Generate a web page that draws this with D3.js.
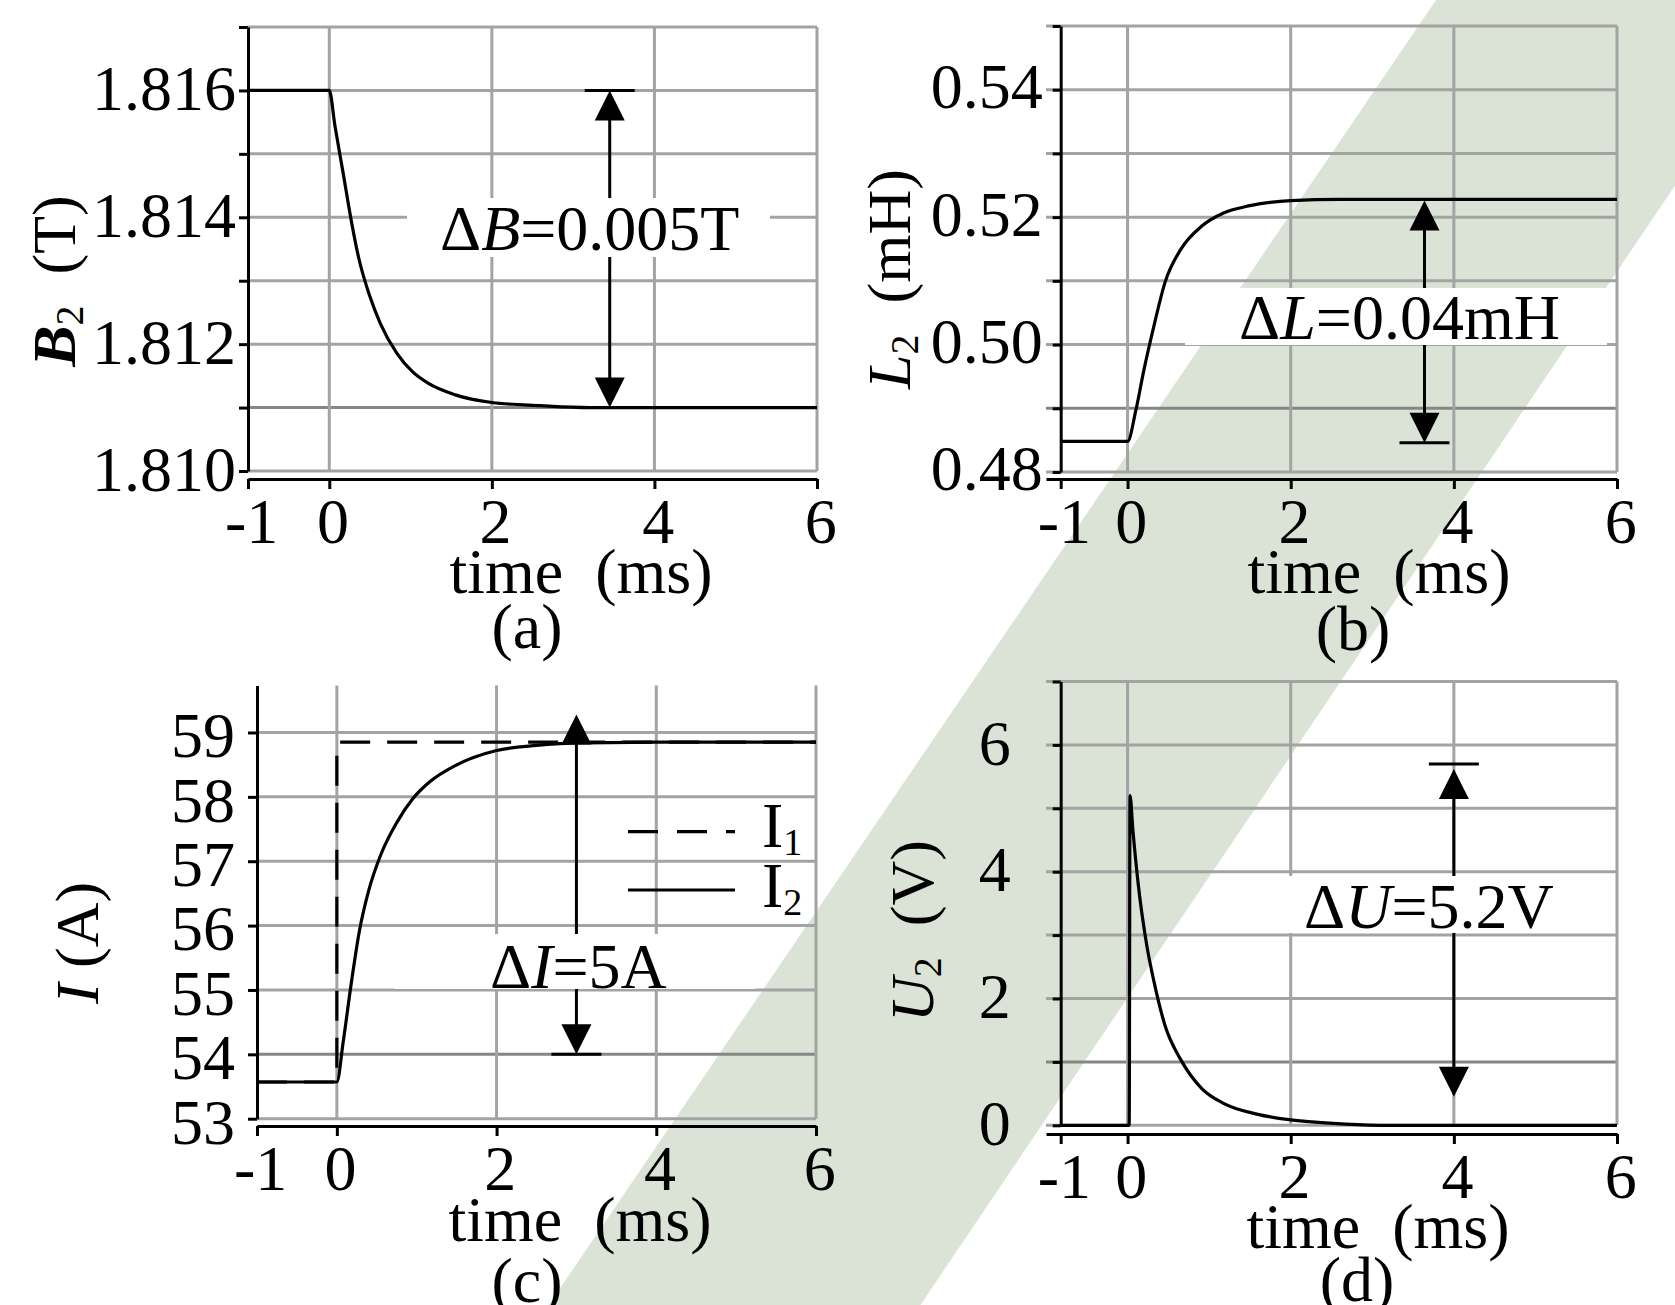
<!DOCTYPE html>
<html>
<head>
<meta charset="utf-8">
<script src="https://cdn.jsdelivr.net/npm/d3@7"></script>
<style>
  html, body { margin: 0; padding: 0; background: #ffffff; }
  svg { display: block; }
  text { font-family: 'Liberation Serif', 'Times New Roman', serif; fill: #000; }
</style>
</head>
<body>
<script>
// ---- time axes (ms) -------------------------------------------------------
const xTickValsAC = [-1, 0, 2, 4, 6];
const xTickValsBD = [-0.82, 0, 2, 4, 6];       // y axis of (b),(d) sits a little right of -1
const xTickLabels = ["-1", "0", "2", "4", "6"];
const xGridVals = [0, 2, 4, 6];

// ---- (a) flux density B2 ---------------------------------------------------
const tA = [-1, 0, 0.07, 0.17, 0.27, 0.36, 0.5, 0.63, 0.83, 1.02, 1.22, 1.55, 2.0, 2.6, 3.2, 4, 5, 6];
const bA = [1.816, 1.816, 1.81544, 1.81470, 1.81395, 1.81337, 1.81275, 1.81232, 1.81186, 1.81157,
            1.81138, 1.81120, 1.81108, 1.81103, 1.811, 1.811, 1.811, 1.811];
const yTicksA = [1.810, 1.811, 1.812, 1.813, 1.814, 1.815, 1.816, 1.817];
const yLabelsA = ["1.810", "", "1.812", "", "1.814", "", "1.816", ""];

// ---- (b) inductance L2 -----------------------------------------------------
const tB = [-0.82, 0, 0.1, 0.2, 0.33, 0.46, 0.65, 0.91, 1.17, 1.5, 2.0, 2.6, 3.2, 4, 5, 6];
const lB = [0.4848, 0.4848, 0.4896, 0.4960, 0.5033, 0.5098, 0.5149, 0.5186, 0.5206, 0.5218,
            0.5226, 0.5228, 0.5228, 0.5228, 0.5228, 0.5228];
const yTicksB = [0.48, 0.49, 0.50, 0.51, 0.52, 0.53, 0.54, 0.55];
const yLabelsB = ["0.48", "", "0.50", "", "0.52", "", "0.54", ""];

// ---- (c) currents I1, I2 ---------------------------------------------------
const tC1 = [-1, 0, 0, 6];
const iC1 = [53.57, 53.57, 58.85, 58.85];
const tC2 = [-1, 0, 0.08, 0.18, 0.28, 0.4, 0.55, 0.75, 0.95, 1.16, 1.49, 2.0, 2.5, 3.1, 4, 5, 6];
const iC2 = [53.57, 53.57, 54.2, 55.1, 55.9, 56.55, 57.1, 57.6, 57.97, 58.23, 58.49, 58.72,
             58.8, 58.84, 58.85, 58.85, 58.85];
const yTicksC = [53, 54, 55, 56, 57, 58, 59];
const yLabelsC = ["53", "54", "55", "56", "57", "58", "59"];

// ---- (d) voltage U2 --------------------------------------------------------
const tD = [-0.82, 0.02, 0.03, 0.065, 0.13, 0.23, 0.33, 0.46, 0.65, 0.91, 1.17, 1.57, 2.0, 2.67, 3.2, 4, 5, 6];
const uD = [0, 0, 5.2, 4.66, 3.81, 2.88, 2.23, 1.57, 1.04, 0.58, 0.35, 0.18, 0.085, 0.02, 0, 0, 0, 0];
const yTicksD = [0, 1, 2, 3, 4, 5, 6, 7];
const yLabelsD = ["0", "", "2", "", "4", "", "6", ""];

// ---- difference arrows: time, lower end, upper end -------------------------
const arrowA = { t: 3.45, lo: 1.811, hi: 1.816 };
const arrowB = { t: 3.64, lo: 0.4846, hi: 0.5226 };
const arrowC = { t: 3.0, lo: 54.0, hi: 59.28 };
const arrowD = { t: 4.0, lo: 0.45, hi: 5.62 };

// ---------------------------------------------------------------------------
const W = 1675, H = 1305;
const GRID = "#a3a3a3";
const GRID_DARK = "#868686";
const svg = d3.select("body").append("svg").attr("width", W).attr("height", H);
svg.append("rect").attr("width", W).attr("height", H).attr("fill", "#ffffff");

// diagonal tinted band behind the figure
svg.append("polygon")
  .attr("points", [[1436, 0], [1800, 0], [1800 - 0.674 * H, H], [1436 - 0.68 * H, H]].map(p => p.join(",")).join(" "))
  .attr("fill", "#dae3d5");

const panels = [
  {
    t: tA, series: [{ v: bA, dash: null }],
    xDomain: [-1, 6], xRange: [248, 817], yAxisAt: -1, xTicks: xTickValsAC,
    yDomain: [1.810, 1.817], yRange: [471, 27], yTicks: yTicksA, yLabels: yLabelsA, darkGrid: 1.811,
    xAxisY: 479, yTickSize: 9, yPad: 3, yDy: "0.3em",
    arrow: arrowA, capTop: true, capBottom: false,
    mask: [407, 198, 363, 59],
    note: ["Δ", "B", "=0.005T"], noteDx: -20, noteY: 250,
    yTitle: ["B", "2", "  (T)"], yTitleBold: true, yTitlePos: [75, 281],
    xTitlePos: [581, 593], tag: "(a)", tagPos: [527, 648]
  },
  {
    t: tB, series: [{ v: lB, dash: null }],
    xDomain: [-1, 6], xRange: [1046, 1617], yAxisAt: -0.82, xTicks: xTickValsBD,
    yDomain: [0.48, 0.55], yRange: [472, 26], yTicks: yTicksB, yLabels: yLabelsB, darkGrid: 0.49,
    xAxisY: 479, yTickSize: 8, yPad: 10, yDy: "0.28em",
    arrow: arrowB, capTop: false, capBottom: true,
    mask: [1185, 288, 422, 57],
    note: ["Δ", "L", "=0.04mH"], noteDx: -25, noteY: 339,
    yTitle: ["L", "2", "  (mH)"], yTitleBold: false, yTitlePos: [910, 279],
    xTitlePos: [1379, 593], tag: "(b)", tagPos: [1353, 650]
  },
  {
    t: tC2, series: [{ v: iC1, t: tC1, dash: "30,17", linear: true }, { v: iC2, dash: null }],
    xDomain: [-1, 6], xRange: [257, 816], yAxisAt: -1, xTicks: xTickValsAC,
    yDomain: [53, 59.73], yRange: [1118.7, 685.5], yTicks: yTicksC, yLabels: yLabelsC, darkGrid: 54,
    xAxisY: 1126, yTickSize: 9, yPad: 13, yDy: "0.38em",
    arrow: arrowC, capTop: false, capBottom: true,
    mask: [394, 934, 361, 55],
    note: ["Δ", "I", "=5A"], noteDx: 2, noteY: 988,
    yTitle: ["I", "", " (A)"], yTitleBold: false, yTitlePos: [98, 943],
    xTitlePos: [580, 1241], tag: "(c)", tagPos: [527, 1302],
    legend: true
  },
  {
    t: tD, series: [{ v: uD, dash: null }],
    xDomain: [-1, 6], xRange: [1046, 1617], yAxisAt: -0.82, xTicks: xTickValsBD,
    yDomain: [0, 7], yRange: [1125.3, 681.5], yTicks: yTicksD, yLabels: yLabelsD, darkGrid: 1,
    xAxisY: 1134, yTickSize: 8, yPad: 42, yDy: "0.3em",
    arrow: arrowD, capTop: true, capBottom: false, capTopValue: 5.7,
    mask: [1285, 876, 295, 57],
    note: ["Δ", "U", "=5.2V"], noteDx: -25, noteY: 928,
    yTitle: ["U", "2", "  (V)"], yTitleBold: false, yTitlePos: [933, 931],
    xTitlePos: [1378, 1248], tag: "(d)", tagPos: [1357, 1301]
  }
];

function drawArrow(g, x, yTop, yBot, capTopY, capBotY) {
  const headL = 30, headW = 15, cap = 25;
  g.append("line").attr("x1", x).attr("x2", x).attr("y1", yTop + headL - 2).attr("y2", yBot - headL + 2)
    .attr("stroke", "#000").attr("stroke-width", 3);
  g.append("path").attr("d", `M${x},${yTop} L${x - headW},${yTop + headL} L${x + headW},${yTop + headL} Z`).attr("fill", "#000");
  g.append("path").attr("d", `M${x},${yBot} L${x - headW},${yBot - headL} L${x + headW},${yBot - headL} Z`).attr("fill", "#000");
  if (capTopY != null) g.append("line").attr("x1", x - cap).attr("x2", x + cap).attr("y1", capTopY).attr("y2", capTopY)
    .attr("stroke", "#000").attr("stroke-width", 3);
  if (capBotY != null) g.append("line").attr("x1", x - cap).attr("x2", x + cap).attr("y1", capBotY).attr("y2", capBotY)
    .attr("stroke", "#000").attr("stroke-width", 3);
}

panels.forEach(p => {
  const x = d3.scaleLinear().domain(p.xDomain).range(p.xRange);
  const y = d3.scaleLinear().domain(p.yDomain).range(p.yRange);
  const g = svg.append("g");

  // grid
  const grid = g.append("g").attr("stroke-width", 3);
  grid.selectAll("line.h").data(p.yTicks).join("line")
    .attr("stroke", d => d === p.darkGrid ? GRID_DARK : GRID)
    .attr("x1", p.xRange[0]).attr("x2", p.xRange[1])
    .attr("y1", d => y(d)).attr("y2", d => y(d));
  grid.selectAll("line.v").data(xGridVals).join("line")
    .attr("stroke", GRID)
    .attr("x1", d => x(d)).attr("x2", d => x(d))
    .attr("y1", p.yRange[1]).attr("y2", p.yRange[0]);

  // difference arrow
  const ax = x(p.arrow.t);
  drawArrow(g, ax, y(p.arrow.hi), y(p.arrow.lo),
    p.capTop ? y(p.capTopValue != null ? p.capTopValue : p.arrow.hi) : null,
    p.capBottom ? y(p.arrow.lo) : null);

  // white box behind the annotation
  g.append("rect").attr("x", p.mask[0]).attr("y", p.mask[1]).attr("width", p.mask[2]).attr("height", p.mask[3])
    .attr("fill", "#ffffff");

  // axes
  const yAx = d3.axisLeft(y).tickValues(p.yTicks).tickFormat((d, i) => p.yLabels[i])
    .tickSize(p.yTickSize).tickSizeOuter(0).tickPadding(p.yPad);
  const gy = g.append("g").attr("transform", `translate(${x(p.yAxisAt)},0)`).call(yAx);
  const xAx = d3.axisBottom(x).tickValues(p.xTicks).tickFormat((d, i) => xTickLabels[i])
    .tickSize(10).tickSizeOuter(0).tickPadding(9);
  const gx = g.append("g").attr("transform", `translate(0,${p.xAxisY})`).call(xAx);
  [gy, gx].forEach(a => {
    a.attr("font-family", null).attr("font-size", 64);
    a.select(".domain").attr("stroke", "#000").attr("stroke-width", 3);
    a.selectAll(".tick line").attr("stroke", "#000").attr("stroke-width", 3);
  });
  gy.selectAll(".tick text").attr("dy", p.yDy);
  gx.selectAll(".tick text").attr("dx", "0.05em");

  // curves
  p.series.forEach(s => {
    const ts = s.t || p.t;
    const pts = ts.map((t, i) => [t, s.v[i]]);
    const line = d3.line().x(d => x(d[0])).y(d => y(d[1]))
      .curve(s.linear ? d3.curveLinear : d3.curveMonotoneX);
    g.append("path").attr("d", line(pts)).attr("fill", "none").attr("stroke", "#000")
      .attr("stroke-width", 3.2).attr("stroke-dasharray", s.dash);
  });

  // annotation text
  const nt = g.append("text").attr("x", ax + p.noteDx).attr("y", p.noteY).attr("text-anchor", "middle")
    .attr("font-size", 64);
  nt.append("tspan").text(p.note[0]);
  nt.append("tspan").attr("font-style", "italic").text(p.note[1]);
  nt.append("tspan").text(p.note[2]);

  // y title
  const yt = g.append("text").attr("transform", `translate(${p.yTitlePos[0]},${p.yTitlePos[1]}) rotate(-90)`)
    .attr("text-anchor", "middle").attr("font-size", 62).style("white-space", "pre");
  yt.append("tspan").attr("font-style", "italic").attr("font-weight", p.yTitleBold ? "bold" : null).text(p.yTitle[0]);
  if (p.yTitle[1]) {
    yt.append("tspan").attr("font-size", 40).attr("dy", 8).text(p.yTitle[1]);
    yt.append("tspan").attr("dy", -8).text(p.yTitle[2]);
  } else {
    yt.append("tspan").text(p.yTitle[2]);
  }

  // x title and panel tag
  g.append("text").attr("x", p.xTitlePos[0]).attr("y", p.xTitlePos[1]).attr("text-anchor", "middle")
    .attr("font-size", 64).style("white-space", "pre").text("time  (ms)");
  g.append("text").attr("x", p.tagPos[0]).attr("y", p.tagPos[1]).attr("text-anchor", "middle")
    .attr("font-size", 64).text(p.tag);

  // legend for the two currents
  if (p.legend) {
    const lg = g.append("g");
    const rows = [{ name: "I", sub: "1", dash: "30,19", ly: 831.7, ty: 847 },
                  { name: "I", sub: "2", dash: null, ly: 890, ty: 907 }];
    rows.forEach(r => {
      lg.append("line").attr("x1", 628).attr("x2", 735).attr("y1", r.ly).attr("y2", r.ly)
        .attr("stroke", "#000").attr("stroke-width", 3.2).attr("stroke-dasharray", r.dash);
      const tx = lg.append("text").attr("x", 762).attr("y", r.ty).attr("font-size", 64);
      tx.append("tspan").text(r.name);
      tx.append("tspan").attr("font-size", 38).attr("dy", 8).text(r.sub);
    });
  }
});
</script>
</body>
</html>
